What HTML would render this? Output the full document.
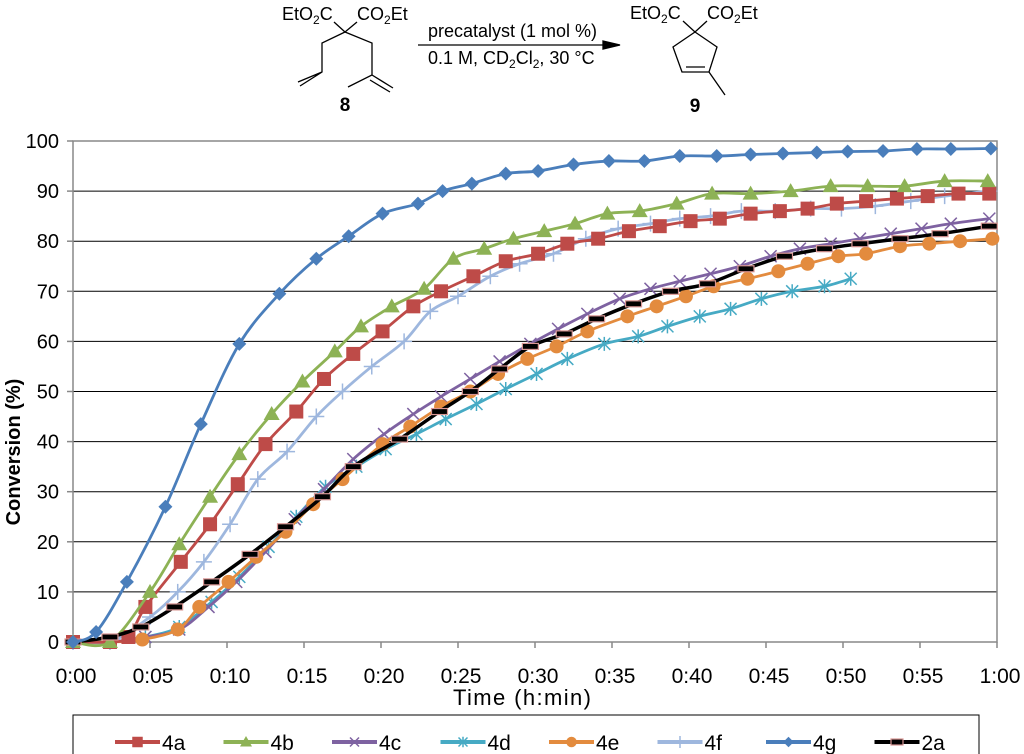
<!DOCTYPE html>
<html><head><meta charset="utf-8"><style>
body{margin:0;background:#fff;font-family:"Liberation Sans",Arial,sans-serif}
svg{display:block}
</style></head><body>
<svg id="c" width="1024" height="754" viewBox="0 0 1024 754" xmlns="http://www.w3.org/2000/svg" font-family="Liberation Sans, Arial, sans-serif">
<g id="scheme" stroke="#000" stroke-width="1.3" fill="none">
 <text x="282" y="20" font-size="18" fill="#000" stroke="none">EtO<tspan font-size="12" dy="4">2</tspan><tspan dy="-4">C</tspan></text>
 <text x="357" y="20" font-size="18" fill="#000" stroke="none">CO<tspan font-size="12" dy="4">2</tspan><tspan dy="-4">Et</tspan></text>
 <path d="M334 22 L345 32 L357 22 M345 32 L322 43 L322 72 L300 86 M322 72 L298 82 M345 32 L372 43 L372 75 L348 87 M372 75 L393 88 M370 80 L390 92"/>
 <text x="345" y="111" font-size="19" font-weight="bold" fill="#000" stroke="none" text-anchor="middle">8</text>
 <text x="428" y="37" font-size="18" fill="#000" stroke="none">precatalyst (1 mol %)</text>
 <path d="M418 45 L608 45"/><path d="M603 41 L620 45 L603 49 Z" fill="#000"/>
 <text x="428" y="64" font-size="18" fill="#000" stroke="none">0.1 M, CD<tspan font-size="12" dy="4">2</tspan><tspan dy="-4">Cl</tspan><tspan font-size="12" dy="4">2</tspan><tspan dy="-4">, 30 °C</tspan></text>
 <text x="630" y="19" font-size="18" fill="#000" stroke="none">EtO<tspan font-size="12" dy="4">2</tspan><tspan dy="-4">C</tspan></text>
 <text x="707" y="19" font-size="18" fill="#000" stroke="none">CO<tspan font-size="12" dy="4">2</tspan><tspan dy="-4">Et</tspan></text>
 <path d="M683 21 L695 32 L707 21 M695 32 L673 47 L682 72 L709 72 L717 47 Z M686 67 L705 67 M709 72 L725 95"/>
 <text x="695" y="112" font-size="19" font-weight="bold" fill="#000" stroke="none" text-anchor="middle">9</text>
</g>
<g id="grid"></g><g id="axes"></g><g id="series"></g><g id="legend"></g>
</svg>
<script>
const yTicks=[0,10,20,30,40,50,60,70,80,90,100];
const xTickLabels=["0:00","0:05","0:10","0:15","0:20","0:25","0:30","0:35","0:40","0:45","0:50","0:55","1:00"];
const names=["4a","4b","4c","4d","4e","4f","4g","2a"];
const t4a=[0,2.4,3.6,4.7,7.0,8.9,10.7,12.5,14.5,16.3,18.2,20.1,22.1,23.9,26.0,28.1,30.2,32.1,34.1,36.1,38.1,40.1,42.0,44.0,45.9,47.7,49.6,51.5,53.5,55.5,57.5,59.5];
const v4a=[0,0,1,7,16,23.5,31.5,39.5,46,52.5,57.5,62,67,70,73,76,77.5,79.5,80.5,82,83,84,84.5,85.5,86,86.5,87.5,88,88.5,89,89.5,89.5];
const t4b=[0,2.4,5.0,6.9,8.9,10.8,12.9,14.9,17.0,18.7,20.7,22.8,24.7,26.7,28.6,30.6,32.6,34.7,36.8,39.2,41.5,44.0,46.6,49.2,51.6,54.0,56.6,59.4];
const v4b=[0,0,10,19.5,29,37.5,45.5,52,58,63,67,70.5,76.5,78.5,80.5,82,83.5,85.5,86,87.5,89.5,89.5,90,91,91,91,92,92];
const t4c=[0,2.4,4.7,6.9,8.8,10.6,12.5,14.4,16.3,18.2,20.2,22.1,23.9,25.8,27.7,29.7,31.5,33.4,35.5,37.5,39.4,41.4,43.3,45.3,47.2,49.2,51.1,53.1,55.1,57.0,59.5];
const v4c=[0,0,1,2.5,7,12,18,24.5,30.5,36.5,41.5,45.5,49,52.5,56,59.5,62.5,65.5,68.5,70.5,72,73.5,75,77,78.5,79.5,80.5,81.5,82.5,83.5,84.5];
const t4d=[0,2.4,4.7,6.9,9.0,10.8,12.7,14.5,16.4,18.4,20.3,22.3,24.2,26.2,28.1,30.1,32.1,34.5,36.7,38.6,40.7,42.7,44.7,46.7,48.8,50.5];
const v4d=[0,0,1,3,8,13,19,25,31,35,38.5,41.5,44.5,47.5,50.5,53.5,56.5,59.5,61,63,65,66.5,68.5,70,71,72.5];
const t4e=[0,2.4,4.5,6.8,8.2,10.1,11.9,13.8,15.6,17.5,20.1,21.9,23.9,25.8,27.6,29.5,31.4,33.4,36.0,37.9,39.8,41.6,43.8,45.8,47.7,49.7,51.5,53.7,55.6,57.6,59.7];
const v4e=[0,0,0.5,2.5,7,12,17,22,27.5,32.5,39.5,43,47,50,53.5,56.5,59,62,65,67,69,71,72.5,74,75.5,77,77.5,79,79.5,80,80.5];
const t4f=[0,2.4,5.0,6.8,8.5,10.2,12.0,13.9,15.8,17.5,19.4,21.5,23.2,25.0,27.1,29.0,31.2,33.3,35.4,37.5,39.4,41.4,43.4,45.6,47.9,49.9,52.1,54.4,56.6,59.5];
const v4f=[0,0,5,10,16,23.5,32.5,38,45,50,55,60,66,69,73,75.5,77.5,80.5,82.5,83.5,84.5,85,86,86,86.5,86.5,87,88,89,90];
const t4g=[0,1.5,3.5,6,8.3,10.8,13.4,15.8,17.9,20.1,22.4,24,25.9,28.1,30.2,32.5,34.8,37.1,39.4,41.8,44,46.1,48.3,50.3,52.6,54.8,57,59.6];
const v4g=[0,2,12,27,43.5,59.5,69.5,76.5,81,85.5,87.5,90,91.5,93.5,94,95.3,96,96,97,97,97.3,97.5,97.7,97.9,98,98.4,98.4,98.5];
const t2a=[0,2.4,4.4,6.6,9.0,11.5,13.8,16.2,18.2,21.2,23.8,25.8,27.7,29.7,31.9,34.0,36.4,38.8,41.2,43.7,46.2,48.8,51.1,53.7,56.3,59.5];
const v2a=[0,1,3,7,12,17.5,23,29,35,40.5,46,50,54.5,59,61.5,64.5,67.5,70,71.5,74.5,77,78.5,79.5,80.5,81.5,83];

const X0=73,X1=997,Y0=642,Y1=141;
const sx=m=>X0+(X1-X0)*m/60, sy=v=>Y0-(Y0-Y1)*v/100;
const NS="http://www.w3.org/2000/svg";
function mk(tag,attrs,parent){const e=document.createElementNS(NS,tag);for(const k in attrs)e.setAttribute(k,attrs[k]);parent.appendChild(e);return e;}
const grid=document.getElementById('grid'),axes=document.getElementById('axes'),ser=document.getElementById('series'),leg=document.getElementById('legend');

yTicks.forEach(v=>{
 const l=mk('line',{x1:X0,x2:X1,y1:sy(v),y2:sy(v),stroke:'#000','stroke-width':1},grid);
 
 
 mk('line',{x1:X0-6,x2:X0,y1:sy(v),y2:sy(v),stroke:'#888','stroke-width':1.5},axes);
 const t=mk('text',{x:59,y:sy(v)+7,'font-size':20,'text-anchor':'end',fill:'#000'},axes);t.textContent=v;
 
 
});
mk('rect',{x:X0,y:Y1,width:X1-X0,height:Y0-Y1,fill:'none',stroke:'#888','stroke-width':1.5},axes);
xTickLabels.forEach((s,i)=>{
 const x=sx(i*5);
 mk('line',{x1:x,x2:x,y1:Y0,y2:Y0+6,stroke:'#888','stroke-width':1.5},axes);
 const t=mk('text',{x:x+3,y:683,'font-size':21,'text-anchor':'middle',fill:'#000'},axes);t.textContent=s;
 
 
});
const xt=mk('text',{x:522,y:705,'font-size':22,'text-anchor':'middle',fill:'#000',textLength:138},axes);xt.textContent='Time (h:min)';


const yt=mk('text',{x:20,y:452,'font-size':20,'font-weight':'bold','text-anchor':'middle',fill:'#000',transform:'rotate(-90 20 452)'},axes);yt.textContent='Conversion (%)';



const cols={"4a":"#BE4B48","4b":"#8DB255","4c":"#7E62A1","4d":"#46AAC4","4e":"#E38B3E","4f":"#9EB7DE","4g":"#4A7EBB","2a":"#000"};
const data={"4a":[t4a,v4a],"4b":[t4b,v4b],"4c":[t4c,v4c],"4d":[t4d,v4d],"4e":[t4e,v4e],"4f":[t4f,v4f],"4g":[t4g,v4g],"2a":[t2a,v2a]};
function path(P){let d=`M${P[0][0]} ${P[0][1]}`;for(let i=0;i<P.length-1;i++){const p0=P[Math.max(0,i-1)],p1=P[i],p2=P[i+1],p3=P[Math.min(P.length-1,i+2)];
 d+=` C${p1[0]+(p2[0]-p0[0])/6} ${p1[1]+(p2[1]-p0[1])/6} ${p2[0]-(p3[0]-p1[0])/6} ${p2[1]-(p3[1]-p1[1])/6} ${p2[0]} ${p2[1]}`;}return d;}
function marker(n,x,y,g,c,s){
 let e;
 if(n==='4a')e=mk('rect',{x:x-7*s,y:y-7*s,width:14*s,height:14*s,fill:c},g);
 else if(n==='4b')e=mk('path',{d:`M${x} ${y-8*s}L${x+8*s} ${y+6*s}L${x-8*s} ${y+6*s}Z`,fill:c},g);
 else if(n==='4c')e=mk('path',{d:`M${x-6*s} ${y-6*s}L${x+6*s} ${y+6*s}M${x+6*s} ${y-6*s}L${x-6*s} ${y+6*s}`,stroke:c,'stroke-width':1.5},g);
 else if(n==='4d')e=mk('path',{d:`M${x-6*s} ${y-6*s}L${x+6*s} ${y+6*s}M${x+6*s} ${y-6*s}L${x-6*s} ${y+6*s}M${x} ${y-7*s}L${x} ${y+7*s}`,stroke:c,'stroke-width':1.5},g);
 else if(n==='4e')e=mk('circle',{cx:x,cy:y,r:7*s,fill:c},g);
 else if(n==='4f')e=mk('path',{d:`M${x-8*s} ${y}L${x+8*s} ${y}M${x} ${y-8*s}L${x} ${y+8*s}`,stroke:c,'stroke-width':1.5},g);
 else if(n==='4g')e=mk('path',{d:`M${x} ${y-7*s}L${x+7*s} ${y}L${x} ${y+7*s}L${x-7*s} ${y}Z`,fill:c},g);
 else {e=mk('rect',{x:x-8*s,y:y-3,width:16*s,height:6,fill:'#000',stroke:'#D99694','stroke-width':1.2},g);}
 
 
}
const order=["4d","4c","4e","4f","4a","4b","2a","4g"];
order.forEach(n=>{
 const g=mk('g',{},ser);
 
 
 const [t,v]=data[n];const P=t.map((m,i)=>[sx(m),sy(v[i])]);
 mk('path',{d:path(P),fill:'none',stroke:cols[n],'stroke-width':n==='2a'?3.5:2.8},g);
 P.forEach(p=>marker(n,p[0],p[1],g,cols[n],1));
});


mk('rect',{x:73,y:715,width:906,height:50,fill:'#fff',stroke:'#000','stroke-width':1},leg);
names.forEach((n,i)=>{
 const x=115+i*108.5,y=742;
 const g=mk('g',{},leg);
 
 
 mk('line',{x1:x,x2:x+45,y1:y,y2:y,stroke:cols[n],'stroke-width':4},g);
 marker(n,x+22.5,y,g,cols[n],0.75);
 const t=mk('text',{x:x+47,y:y+8,'font-size':21,fill:'#000'},g);t.textContent=n;
});
</script>
</body></html>
